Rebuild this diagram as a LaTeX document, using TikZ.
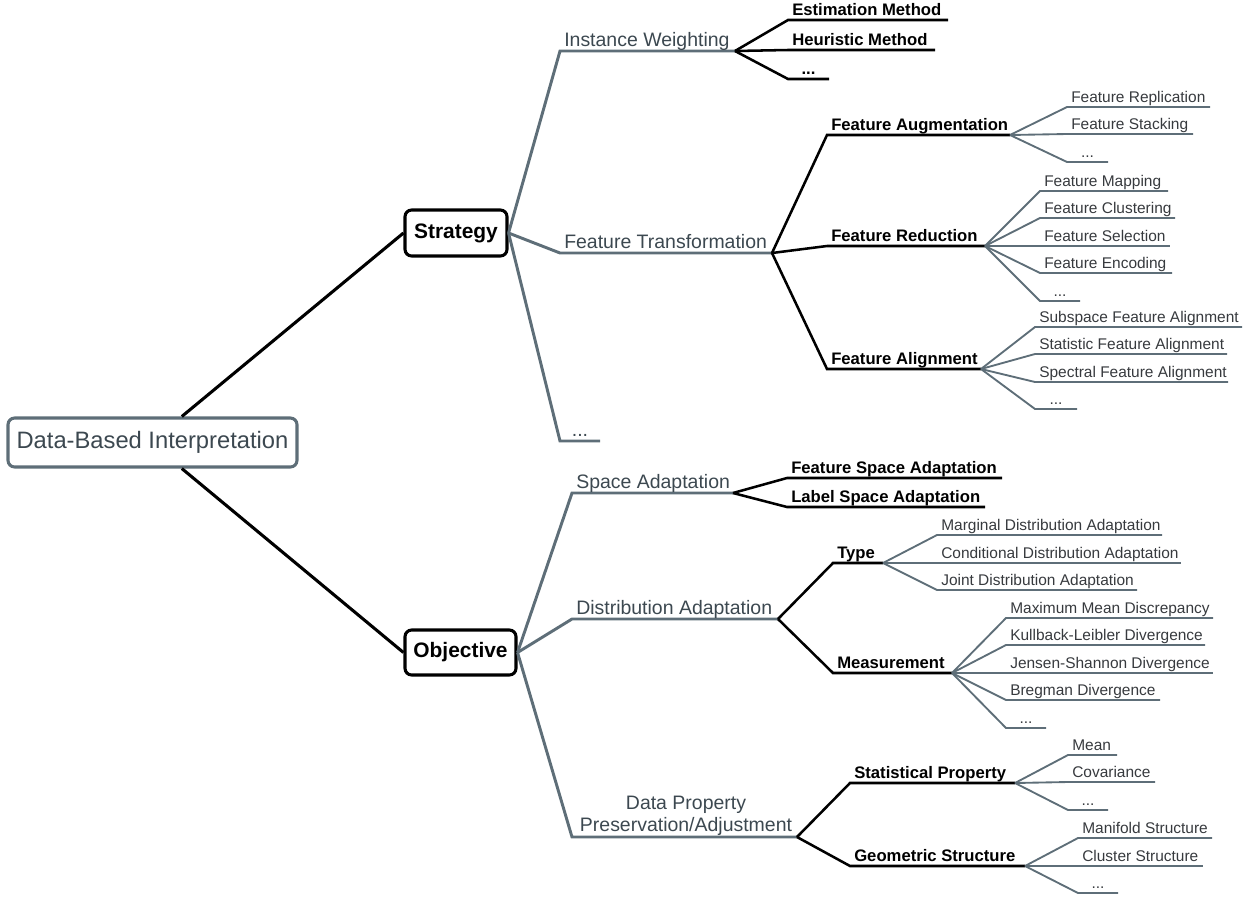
\documentclass[tikz,border=0pt]{standalone}
\usepackage{fontspec}
\setmainfont{Liberation Sans}
\usetikzlibrary{calc}
\definecolor{lgray}{RGB}{94,110,120}
\definecolor{tgray}{RGB}{60,72,80}
\definecolor{t4gray}{RGB}{55,58,62}
\newcommand\mmb[8]{%
  \coordinate (#1-s) at (#3,#5);
  \coordinate (#1-e) at (#4,#5);
  \draw[#6] (#2) -- (#1-s) -- (#1-e);
  \node[#7,anchor=base west] (#1) at (#3+4,#5-5) {#8};
}
\newcommand\mmd[7]{%
  \coordinate (#1-s) at (#3,#5);
  \coordinate (#1-e) at (#4,#5);
  \draw[#6] (#2) -- (#1-s) -- (#1-e);
  \node[#7,anchor=base] (#1) at ({(#3+#4)/2},#5-5) {...};
}
\tikzset{
  l1/.style={line width=2.3pt, black},
  l2/.style={line width=2.2pt, lgray},
  l3/.style={line width=1.9pt, black},
  l4/.style={line width=1.4pt, lgray},
  t2/.style={inner sep=0pt, text=tgray, font=\fontsize{14.6}{16.5}\selectfont},
  t3/.style={inner sep=0pt, text=black, font=\fontsize{12.5}{15}\selectfont\bfseries},
  t4/.style={inner sep=0pt, text=t4gray, font=\fontsize{11.6}{14}\selectfont},
  rootbox/.style={draw=lgray, line width=2.3pt, rounded corners=5pt, fill=white, text=tgray,
    minimum width=216.75pt, minimum height=36.75pt, inner sep=0pt, font=\fontsize{17.8}{20}\selectfont},
  mainbox/.style={draw=black, line width=2.3pt, rounded corners=5pt, fill=white, text=black,
    inner sep=0pt, font=\fontsize{15.7}{18}\selectfont\bfseries},
}
\begin{document}
\begin{tikzpicture}[x={(0.75pt,0)}, y={(0,-0.75pt)}]
\useasboundingbox (0,0) rectangle (1245,900);
% main nodes
\node[rootbox] (root) at (152.5,442.5) {Data-Based Interpretation};
\node[mainbox, minimum width=76.5pt, minimum height=34.5pt] (strat) at (456,233) {Strategy};
\node[mainbox, minimum width=83.25pt, minimum height=33.75pt] (obj) at (460.5,652.5) {Objective};
\draw[l1] ([xshift=22pt]root.north) -- (strat.west);
\draw[l1] ([xshift=22pt]root.south) -- (obj.west);

% Strategy
\mmb{iw}{strat.east}{560}{735}{51}{l2}{t2}{Instance Weighting}
\mmb{ft}{strat.east}{560}{772}{253}{l2}{t2}{Feature Transformation}
\mmd{sd}{strat.east}{560}{600}{441}{l2}{t2}

\mmb{em}{iw-e}{788}{948}{20}{l3}{t3}{Estimation Method}
\mmb{hm}{iw-e}{788}{935}{50}{l3}{t3}{Heuristic Method}
\mmd{iwd}{iw-e}{788}{829}{79}{l3}{t3}

\mmb{fa}{ft-e}{827}{1010}{135}{l3}{t3}{Feature Augmentation}
\mmb{fr}{ft-e}{827}{985}{246}{l3}{t3}{Feature Reduction}
\mmb{fal}{ft-e}{827}{981}{369}{l3}{t3}{Feature Alignment}

\mmb{frep}{fa-e}{1067}{1210}{107}{l4}{t4}{Feature Replication}
\mmb{fst}{fa-e}{1067}{1193}{134}{l4}{t4}{Feature Stacking}
\mmd{fad}{fa-e}{1067}{1108}{162}{l4}{t4}

\mmb{fmap}{fr-e}{1040}{1168}{191}{l4}{t4}{Feature Mapping}
\mmb{fclu}{fr-e}{1040}{1175}{218}{l4}{t4}{Feature Clustering}
\mmb{fsel}{fr-e}{1040}{1170}{246}{l4}{t4}{Feature Selection}
\mmb{fenc}{fr-e}{1040}{1172}{273}{l4}{t4}{Feature Encoding}
\mmd{frd}{fr-e}{1040}{1080}{301}{l4}{t4}

\mmb{sfa}{fal-e}{1035}{1242}{327}{l4}{t4}{Subspace Feature Alignment}
\mmb{stfa}{fal-e}{1035}{1227}{354}{l4}{t4}{Statistic Feature Alignment}
\mmb{spfa}{fal-e}{1035}{1228}{382}{l4}{t4}{Spectral Feature Alignment}
\mmd{fald}{fal-e}{1035}{1077}{409}{l4}{t4}

% Objective
\mmb{sa}{obj.east}{572}{733}{493}{l2}{t2}{Space Adaptation}
\mmb{da}{obj.east}{572}{778}{619}{l2}{t2}{Distribution Adaptation}
\coordinate (dp-s) at (572,837);
\coordinate (dp-e) at (797,837);
\draw[l2] (obj.east) -- (dp-s) -- (dp-e);
\node[t2, align=center, anchor=south] (dp) at (686,836) {Data Property\\Preservation/Adjustment};

\mmb{fsa}{sa-e}{787}{1002}{478}{l3}{t3}{Feature Space Adaptation}
\mmb{lsa}{sa-e}{787}{985}{507}{l3}{t3}{Label Space Adaptation}

\mmb{type}{da-e}{833}{883}{563}{l3}{t3}{Type}
\mmb{meas}{da-e}{833}{952}{673}{l3}{t3}{Measurement}

\mmb{mda}{type-e}{937}{1162}{535}{l4}{t4}{Marginal Distribution Adaptation}
\mmb{cda}{type-e}{937}{1181}{563}{l4}{t4}{Conditional Distribution Adaptation}
\mmb{jda}{type-e}{937}{1137}{590}{l4}{t4}{Joint Distribution Adaptation}

\mmb{mmd}{meas-e}{1006}{1213}{618}{l4}{t4}{Maximum Mean Discrepancy}
\mmb{kl}{meas-e}{1006}{1205}{645}{l4}{t4}{Kullback-Leibler Divergence}
\mmb{js}{meas-e}{1006}{1213}{673}{l4}{t4}{Jensen-Shannon Divergence}
\mmb{bd}{meas-e}{1006}{1160}{700}{l4}{t4}{Bregman Divergence}
\mmd{measd}{meas-e}{1006}{1046}{728}{l4}{t4}

\mmb{sp}{dp-e}{850}{1015}{783}{l3}{t3}{Statistical Property}
\mmb{gs}{dp-e}{850}{1025}{866}{l3}{t3}{Geometric Structure}

\mmb{mean}{sp-e}{1068}{1117}{755}{l4}{t4}{Mean}
\mmb{cov}{sp-e}{1068}{1155}{782}{l4}{t4}{Covariance}
\mmd{spd}{sp-e}{1068}{1108}{810}{l4}{t4}

\mmb{man}{gs-e}{1078}{1212}{838}{l4}{t4}{Manifold Structure}
\mmb{clu}{gs-e}{1078}{1203}{866}{l4}{t4}{Cluster Structure}
\mmd{gsd}{gs-e}{1078}{1118}{893}{l4}{t4}
\end{tikzpicture}
\end{document}
